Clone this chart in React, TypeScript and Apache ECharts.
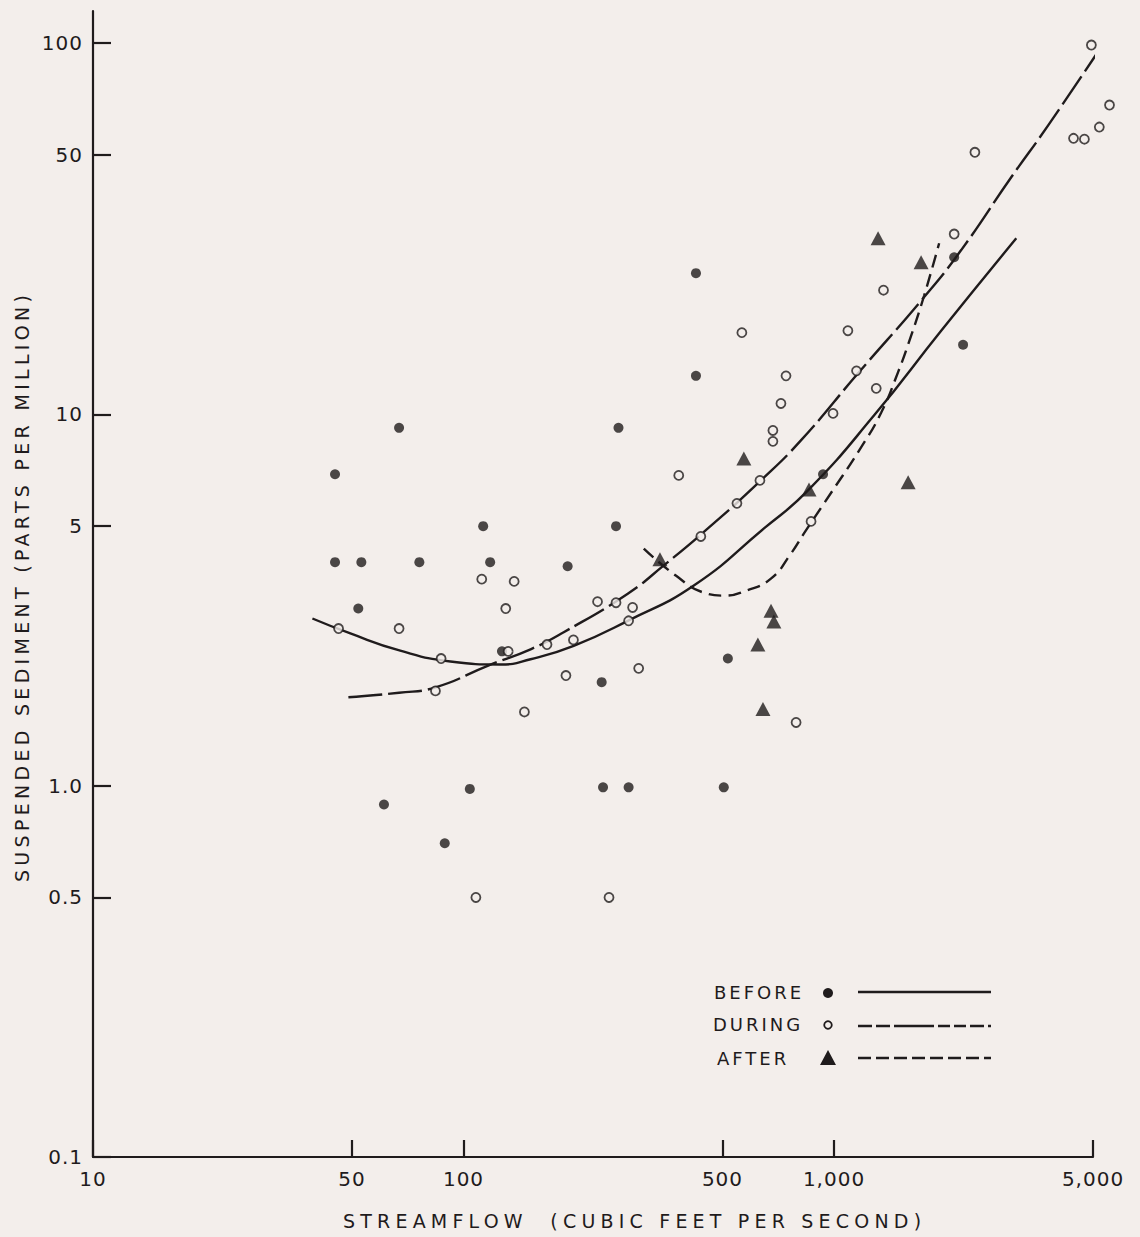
import React, { useEffect, useRef } from "react";
import * as echarts from "echarts";

// ---------- axis ticks ----------
const xTicks = [10, 50, 100, 500, 1000, 5000];
const xTickLabels = ["10", "50", "100", "500", "1,000", "5,000"];
const yTicks = [0.1, 0.5, 1, 5, 10, 50, 100];
const yTickLabels = ["0.1", "0.5", "1.0", "5", "10", "50", "100"];

const xTitle = "STREAMFLOW  (CUBIC FEET PER SECOND)";
const yTitle = "SUSPENDED SEDIMENT (PARTS PER MILLION)";

// ---------- observations ----------
const beforeFlow = [45, 45, 53, 52, 67, 76, 61, 104, 89, 113, 118, 127, 191, 236, 262, 258, 238, 279, 424, 424, 517, 504, 934, 2110, 2230];
const beforeSediment = [6.9, 4.0, 4.0, 3.0, 9.2, 4.0, 0.89, 0.98, 0.7, 5.0, 4.0, 2.3, 3.9, 1.9, 9.2, 5.0, 0.99, 0.99, 24, 12.7, 2.2, 0.99, 6.9, 26.5, 15.4];

const duringFlow = [46, 67, 87, 84, 112, 137, 130, 132, 108, 146, 168, 198, 189, 230, 258, 286, 279, 297, 247, 381, 437, 547, 564, 631, 684, 684, 719, 742, 790, 867, 994, 1090, 1150, 1300, 1360, 2110, 2400, 4430, 4740, 4950, 5200, 5540];
const duringSediment = [2.65, 2.65, 2.2, 1.8, 3.6, 3.55, 3.0, 2.3, 0.5, 1.58, 2.4, 2.47, 1.98, 3.13, 3.11, 3.02, 2.78, 2.07, 0.5, 6.85, 4.69, 5.76, 16.6, 6.64, 9.05, 8.46, 10.7, 12.7, 1.48, 5.15, 10.06, 16.8, 13.1, 11.75, 21.6, 30.6, 50.8, 55.4, 55.1, 98.8, 59.4, 68.1];

const afterFlow = [339, 571, 676, 688, 623, 643, 856, 1315, 1718, 1585];
const afterSediment = [4.07, 7.61, 2.96, 2.77, 2.4, 1.61, 6.28, 29.8, 25.7, 6.56];

// ---------- fitted curves ----------
const beforeCurveFlow = [39.1, 49.5, 67.5, 92.2, 125.9, 151.7, 198.3, 277.5, 418.4, 647, 850.6, 1283, 1946, 3104];
const beforeCurveSediment = [2.82, 2.57, 2.31, 2.16, 2.12, 2.19, 2.38, 2.78, 3.46, 4.93, 6.24, 9.94, 16.8, 29.8];

const duringCurveFlow = [48.9, 67.0, 84.0, 117.0, 151.7, 186.4, 277.5, 347.2, 456.6, 635, 814, 1161, 1751, 2204, 3008, 3788, 5643];
const duringCurveSediment = [1.73, 1.78, 1.84, 2.11, 2.33, 2.59, 3.29, 3.92, 4.93, 6.64, 8.51, 12.9, 20.7, 27.7, 43.5, 60.1, 108.4];

const afterCurveFlow = [306.6, 374.1, 445.3, 504, 578, 675.6, 765.4, 829.6, 939.7, 1183, 1340, 1489, 1615, 1751, 1922];
const afterCurveSediment = [4.35, 3.68, 3.31, 3.25, 3.35, 3.61, 4.22, 4.78, 5.76, 8.15, 10.1, 13.0, 16.3, 20.9, 28.9];

const BG = "#f3eeeb";
const INK = "#1f1b1c";
const FONT = "DejaVu Sans";

const pairs = (xs: number[], ys: number[]) => xs.map((x, i) => [x, ys[i]]);

const fmt = (ticks: number[], labels: string[]) => (v: number) => {
  for (let i = 0; i < ticks.length; i++) {
    if (Math.abs(Math.log10(v) - Math.log10(ticks[i])) < 1e-6) return labels[i];
  }
  return "";
};

export default function App() {
  const ref = useRef<HTMLDivElement>(null);
  useEffect(() => {
    const el = ref.current!;
    const chart = echarts.init(el, null, { renderer: "svg" });
    const curve = (name: string, xs: number[], ys: number[], dash: any) => ({
      name,
      type: "line",
      data: pairs(xs, ys),
      showSymbol: false,
      smooth: 0.5,
      clip: false,
      lineStyle: { color: INK, width: 2.4, type: dash },
      z: 2,
    });
    const option: any = {
      animation: false,
      backgroundColor: BG,
      grid: { left: 93, right: 47, top: 11, bottom: 80, outerBoundsMode: "none" },
      xAxis: {
        type: "log",
        logBase: 10,
        min: 10,
        max: 5000,
        splitLine: { show: false },
        axisLine: { show: true, lineStyle: { color: INK, width: 2.2 } },
        axisTick: { show: true, inside: true, length: 17, lineStyle: { color: INK, width: 2.2 }, customValues: xTicks },
        axisLabel: {
          customValues: xTicks,
          formatter: fmt(xTicks, xTickLabels),
          color: INK,
          fontSize: 20,
          fontFamily: FONT,
          margin: 12,
          showMinLabel: true,
          showMaxLabel: true,
        },
        minorTick: { show: false },
      },
      yAxis: {
        type: "log",
        logBase: 10,
        min: 0.1,
        max: 122,
        splitLine: { show: false },
        axisLine: { show: true, lineStyle: { color: INK, width: 2.2 } },
        axisTick: { show: true, inside: true, length: 18, lineStyle: { color: INK, width: 2.2 }, customValues: yTicks },
        axisLabel: {
          customValues: yTicks,
          formatter: fmt(yTicks, yTickLabels),
          color: INK,
          fontSize: 20,
          fontFamily: FONT,
          margin: 10,
          showMinLabel: true,
          showMaxLabel: true,
        },
      },
      graphic: [
        { type: "text", x: 343, y: 1221, style: { text: xTitle, fill: INK, fontSize: 19, fontFamily: FONT, align: "left", verticalAlign: "middle" } },
        { type: "text", x: 22, y: 882, rotation: Math.PI / 2, style: { text: yTitle, fill: INK, fontSize: 19, fontFamily: FONT, align: "left", verticalAlign: "middle" } },
        // legend
        { type: "text", x: 714, y: 992, style: { text: "BEFORE", fill: INK, fontSize: 18, fontFamily: FONT, align: "left", verticalAlign: "middle" } },
        { type: "circle", shape: { cx: 828, cy: 993, r: 5 }, style: { fill: INK } },
        { type: "line", shape: { x1: 858, y1: 992, x2: 991, y2: 992 }, style: { stroke: INK, lineWidth: 2.4 } },
        { type: "text", x: 713, y: 1024, style: { text: "DURING", fill: INK, fontSize: 18, fontFamily: FONT, align: "left", verticalAlign: "middle" } },
        { type: "circle", shape: { cx: 828, cy: 1025, r: 3.8 }, style: { fill: BG, stroke: INK, lineWidth: 1.8 } },
        { type: "line", shape: { x1: 858, y1: 1026, x2: 991, y2: 1026 }, style: { stroke: INK, lineWidth: 2.4, lineDash: [14, 4, 14, 4, 40, 4, 12, 4, 12, 4] } },
        { type: "text", x: 717, y: 1058, style: { text: "AFTER", fill: INK, fontSize: 18, fontFamily: FONT, align: "left", verticalAlign: "middle" } },
        { type: "polygon", shape: { points: [[820, 1065], [836, 1065], [828, 1050]] }, style: { fill: INK } },
        { type: "line", shape: { x1: 858, y1: 1058, x2: 991, y2: 1058 }, style: { stroke: INK, lineWidth: 2.4, lineDash: [13, 5] } },
      ],
      series: [
        curve("BEFORE curve", beforeCurveFlow, beforeCurveSediment, "solid"),
        curve("DURING curve", duringCurveFlow, duringCurveSediment, [34, 6]),
        curve("AFTER curve", afterCurveFlow, afterCurveSediment, [13, 7]),
        {
          name: "BEFORE",
          type: "scatter",
          data: pairs(beforeFlow, beforeSediment),
          symbol: "circle",
          symbolSize: 10,
          clip: false,
          itemStyle: { color: INK },
          z: 3,
        },
        {
          name: "DURING",
          type: "scatter",
          data: pairs(duringFlow, duringSediment),
          symbol: "circle",
          symbolSize: 9,
          clip: false,
          itemStyle: { color: BG, borderColor: INK, borderWidth: 1.8 },
          z: 3,
        },
        {
          name: "AFTER",
          type: "scatter",
          data: pairs(afterFlow, afterSediment),
          symbol: "triangle",
          symbolSize: [15, 14],
          clip: false,
          itemStyle: { color: INK },
          z: 3,
        },
      ],
    };
    chart.setOption(option);

    const spacing = (s: string) => {
      if (s === xTitle) return 5.2;
      if (s === yTitle) return 4.3;
      if (s === "BEFORE" || s === "DURING" || s === "AFTER") return 3;
      return 1;
    };
    const apply = () => {
      el.querySelectorAll("text").forEach((t) => {
        const s = (t.textContent || "").trim();
        t.setAttribute("letter-spacing", String(spacing(s)));
        t.setAttribute("xml:space", "preserve");
        (t as any).style.whiteSpace = "pre";
      });
    };
    apply();
    chart.on("finished", apply);
    return () => chart.dispose();
  }, []);
  return (
    <div
      ref={ref}
      style={{ position: "fixed", left: 0, top: 0, width: 1140, height: 1237, background: BG }}
    />
  );
}
